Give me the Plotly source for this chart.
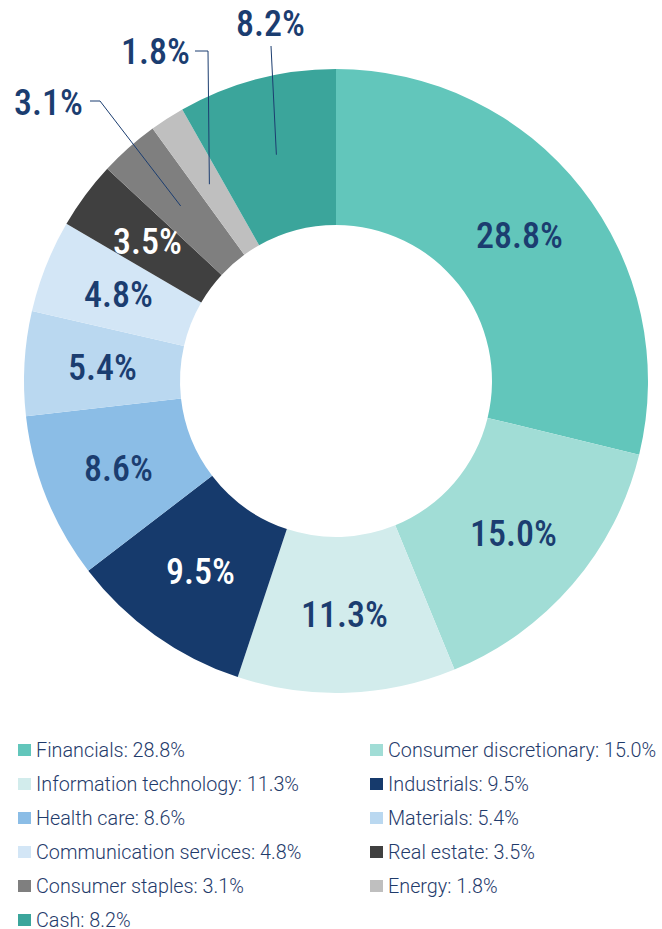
import math
import plotly.graph_objects as go

# ---------------- data ----------------
categories = ["Financials", "Consumer discretionary", "Information technology",
              "Industrials", "Health care", "Materials", "Communication services",
              "Real estate", "Consumer staples", "Energy", "Cash"]
values = [28.8, 15.0, 11.3, 9.5, 8.6, 5.4, 4.8, 3.5, 3.1, 1.8, 8.2]
colors = ["#62c6bb", "#a1ddd6", "#d2ecec", "#163a6c", "#8bbde6", "#bad8f0",
          "#d3e6f6", "#404040", "#7f7f7f", "#bfbfbf", "#3ba59b"]
NAVY = "#1b3d70"
label_colors = [NAVY, NAVY, NAVY, "white", NAVY, NAVY, NAVY, "white", NAVY, NAVY, NAVY]
outside_labels = ["Consumer staples", "Energy", "Cash"]

# ---------------- layout constants (pixels) ----------------
W, H = 662, 929
CX, CY, R = 336, 381, 312
HOLE = 0.5
LABEL_R = R * (1 + HOLE) / 2
# text centre and leader elbow points for outside labels
outside_pos = {
    "Consumer staples": {"text": (48, 103), "path": [(100, 101), (90, 101)]},
    "Energy": {"text": (155, 52), "path": [(208, 51), (195, 51)]},
    "Cash": {"text": (270, 24), "path": [(271, 46)]},
}
LEG_ROW0, LEG_DY = 750, 34
LEG_COLS = [18, 370]
SQ_W, SQ_H = 13, 12
TEXT_GAP = 3


def px(x):
    return x / W


def py(y):
    return 1 - y / H


fig = go.Figure(go.Pie(
    labels=categories, values=values, sort=False, direction="clockwise",
    rotation=0, hole=HOLE, textinfo="none", hoverinfo="label+percent",
    marker=dict(colors=colors, line=dict(width=0)),
    domain=dict(x=[px(CX - R), px(CX + R)], y=[py(CY + R), py(CY - R)]),
    showlegend=False,
))

annotations = []
shapes = []
total = sum(values)
cum = 0.0
for cat, v, lc in zip(categories, values, label_colors):
    mid = (cum + v / 2) / total * 2 * math.pi
    cum += v
    mx = CX + LABEL_R * math.sin(mid)
    my = CY - LABEL_R * math.cos(mid)
    txt = f"<span style='font-stretch:condensed'>{v:.1f}%</span>"
    if cat in outside_labels:
        info = outside_pos[cat]
        pts = [(mx, my)] + info["path"]
        d = "M " + " L ".join(f"{px(x):.5f},{py(y):.5f}" for x, y in pts)
        shapes.append(dict(type="path", path=d, xref="paper", yref="paper",
                           line=dict(color=NAVY, width=1)))
        tx, ty = info["text"]
    else:
        tx, ty = mx, my
    annotations.append(dict(x=px(tx), y=py(ty), xref="paper", yref="paper",
                            text=txt, showarrow=False, xanchor="center", yanchor="middle",
                            font=dict(family="Roboto", size=36, color=lc, weight=500)))

# legend
for i, (cat, v, c) in enumerate(zip(categories, values, colors)):
    row, col = divmod(i, 2)
    x0 = LEG_COLS[col]
    yc = LEG_ROW0 + row * LEG_DY
    shapes.append(dict(type="rect", xref="paper", yref="paper",
                       x0=px(x0), x1=px(x0 + SQ_W), y0=py(yc - SQ_H / 2), y1=py(yc + SQ_H / 2),
                       fillcolor=c, line=dict(width=0)))
    annotations.append(dict(x=px(x0 + SQ_W + TEXT_GAP), y=py(yc), xref="paper", yref="paper",
                            text=f"{cat}: {v:.1f}%", showarrow=False,
                            xanchor="left", yanchor="middle",
                            font=dict(family="Roboto", size=19.8, color="#1f3b6b", weight=300)))

fig.update_layout(
    width=W, height=H, margin=dict(l=0, r=0, t=0, b=0),
    paper_bgcolor="white", plot_bgcolor="white",
    annotations=annotations, shapes=shapes,
)
fig.write_html("out.html", config={"displayModeBar": False},
               post_script="document.body.style.margin='0';document.body.style.overflow='hidden';")
